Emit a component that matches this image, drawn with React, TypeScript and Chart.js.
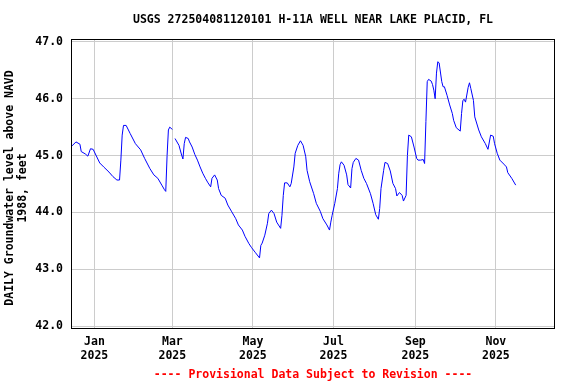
import React, { useEffect, useRef } from "react";
import { Chart, registerables } from "chart.js";

Chart.register(...registerables);

const TITLE = "USGS 272504081120101 H-11A WELL NEAR LAKE PLACID, FL";
const FOOTER = "---- Provisional Data Subject to Revision ----";
const Y_TITLE = ["DAILY Groundwater level above NAVD", "1988, feet"];

// days since 2025-01-01
const days = [
  -17, -14, -11, -10, -7, -5, -3, -1, 4, 7, 11, 14, 17, 19, 20, 21, 22, 24, 27, 31,
  35, 38, 42, 45, 48, 51, 53, 54, 55, 56, 57, 58, 59, 60, 61, 64, 66, 67, 68, 69,
  71, 72, 74, 76, 78, 80, 82, 84, 86, 88, 89, 91, 93, 94, 96, 99, 101, 104, 107, 109,
  112, 114, 117, 119, 122, 125, 126, 127, 129, 131, 132, 134, 136, 138, 141, 142, 143, 144, 146, 148,
  149, 151, 152, 154, 156, 157, 158, 160, 161, 163, 166, 168, 171, 173, 176, 178, 179, 180, 182, 184,
  185, 186, 187, 189, 191, 192, 194, 195, 196, 198, 200, 202, 204, 206, 209, 211, 213, 215, 216, 217,
  219, 220, 222, 224, 226, 228, 229, 231, 233, 234, 236, 237, 238, 240, 242, 244, 245, 247, 249, 250,
  251, 252, 253, 255, 256, 257, 258, 259, 260, 261, 263, 264, 265, 267, 269, 271, 272, 274, 277, 278,
  279, 280, 281, 283, 284, 285, 287, 288, 291, 293, 296, 298, 300, 302, 303, 305, 307, 310, 312, 313,
  316, 319,
];

const levels: (number | null)[] = [
  45.17, 45.24, 45.2, 45.07, 45.03, 44.99, 45.12, 45.11, 44.87, 44.8, 44.71, 44.63, 44.57, 44.57, 44.92, 45.36, 45.53, 45.53, 45.39, 45.21,
  45.1, 44.95, 44.77, 44.66, 44.6, 44.48, 44.4, 44.37, 45.0, 45.45, 45.5, 45.48, 45.46, null, 45.3, 45.18, 45.01, 44.94, 45.21, 45.32,
  45.3, 45.24, 45.15, 45.02, 44.92, 44.8, 44.69, 44.6, 44.52, 44.45, 44.6, 44.66, 44.57, 44.42, 44.3, 44.25, 44.13, 44.01, 43.89, 43.78,
  43.69, 43.58, 43.45, 43.38, 43.29, 43.2, 43.42, 43.46, 43.6, 43.81, 43.98, 44.04, 43.98, 43.83, 43.72, 43.95, 44.3, 44.52, 44.52, 44.45,
  44.51, 44.8, 45.04, 45.18, 45.26, 45.22, 45.18, 44.98, 44.74, 44.54, 44.33, 44.16, 44.02, 43.89, 43.78, 43.69, 43.83, 43.95, 44.16, 44.42,
  44.69, 44.84, 44.89, 44.83, 44.66, 44.49, 44.43, 44.77, 44.88, 44.95, 44.92, 44.74, 44.6, 44.51, 44.33, 44.16, 43.96, 43.88, 44.07, 44.42,
  44.74, 44.88, 44.86, 44.73, 44.51, 44.42, 44.29, 44.35, 44.3, 44.2, 44.3, 45.0, 45.36, 45.33, 45.15, 44.95, 44.92, 44.92, 44.93, 44.86,
  45.6, 46.3, 46.34, 46.31, 46.25, 46.15, 46.0, 46.45, 46.65, 46.63, 46.3, 46.21, 46.21, 46.06, 45.89, 45.74, 45.62, 45.49, 45.43, 45.74,
  45.97, 45.99, 45.94, 46.2, 46.28, 46.18, 45.97, 45.68, 45.45, 45.33, 45.21, 45.11, 45.36, 45.34, 45.21, 45.04, 44.92, 44.85, 44.8, 44.7,
  44.6, 44.48,
];

const monthDays = [0, 59, 120, 181, 243, 304];
const monthLabels = ["Jan", "Mar", "May", "Jul", "Sep", "Nov"];
const yearLabel = "2025";
const yTicks = [42, 43, 44, 45, 46, 47];

const X_MIN = -17;
const X_MAX = 348;
const Y_MIN = 41.95;
const Y_MAX = 47.05;

const FONT_FAMILY = "'DejaVu Sans Mono', 'Liberation Mono', monospace";
const FONT_SIZE = 11.5;

const decor = {
  id: "decor",
  afterDraw(chart: any) {
    const { ctx, chartArea: a } = chart;
    ctx.save();
    ctx.strokeStyle = "#000000";
    ctx.lineWidth = 1;
    ctx.strokeRect(
      Math.round(a.left) - 0.5,
      Math.round(a.top) + 0.5,
      Math.round(a.right - a.left) + 1,
      Math.round(a.bottom - a.top) - 1
    );
    ctx.font = `bold ${FONT_SIZE}px ${FONT_FAMILY}`;
    ctx.textBaseline = "middle";
    ctx.textAlign = "center";
    const cx = (a.left + a.right) / 2;
    ctx.fillStyle = "#000000";
    ctx.fillText(TITLE, cx, 20);
    ctx.fillStyle = "#ff0000";
    ctx.fillText(FOOTER, cx, 375);
    ctx.fillStyle = "#000000";
    ctx.translate(0, 188);
    ctx.rotate(-Math.PI / 2);
    ctx.fillText(Y_TITLE[0], 0, 10);
    ctx.fillText(Y_TITLE[1], 0, 23);
    ctx.restore();
  },
};

export default function App() {
  const ref = useRef<HTMLCanvasElement | null>(null);

  useEffect(() => {
    if (!ref.current) return;
    const data = days.map((d, i) => ({ x: d, y: levels[i] }));
    const chart = new Chart(ref.current, {
      type: "line",
      data: {
        datasets: [
          {
            data: data as any,
            borderColor: "#0000ff",
            borderWidth: 1,
            pointRadius: 0,
            tension: 0,
            spanGaps: false,
            fill: false,
          },
        ],
      },
      options: {
        animation: false,
        responsive: false,
        events: [],
        layout: { padding: { left: 0, top: 39, right: 22, bottom: 0 } },
        plugins: {
          legend: { display: false },
          tooltip: { enabled: false },
          title: { display: false },
        },
        scales: {
          x: {
            type: "linear",
            min: X_MIN,
            max: X_MAX,
            afterBuildTicks: (s: any) => {
              s.ticks = monthDays.map((v) => ({ value: v }));
            },
            afterFit: (s: any) => {
              s.height = 55;
            },
            border: { display: false },
            grid: { color: "#cccccc", lineWidth: 1, drawTicks: false, tickLength: 0 },
            ticks: {
              autoSkip: false,
              maxRotation: 0,
              minRotation: 0,
              padding: 6,
              color: "#000000",
              font: { family: FONT_FAMILY, size: FONT_SIZE, weight: "bold", lineHeight: 1.2 },
              callback: (v: any) => {
                const i = monthDays.indexOf(Number(v));
                return i >= 0 ? [monthLabels[i], yearLabel] : "";
              },
            },
          },
          y: {
            type: "linear",
            min: Y_MIN,
            max: Y_MAX,
            afterBuildTicks: (s: any) => {
              s.ticks = yTicks.map((v) => ({ value: v }));
            },
            afterFit: (s: any) => {
              s.width = 72;
            },
            border: { display: false },
            grid: { color: "#cccccc", lineWidth: 1, drawTicks: false, tickLength: 0 },
            ticks: {
              padding: 9,
              color: "#000000",
              font: { family: FONT_FAMILY, size: FONT_SIZE, weight: "bold" },
              callback: (v: any) => Number(v).toFixed(1),
            },
          },
        },
      },
      plugins: [decor],
    });
    return () => chart.destroy();
  }, []);

  return (
    <div style={{ position: "fixed", left: 0, top: 0, width: 576, height: 384, background: "#ffffff" }}>
      <canvas ref={ref} width={576} height={384} style={{ display: "block" }} />
    </div>
  );
}
